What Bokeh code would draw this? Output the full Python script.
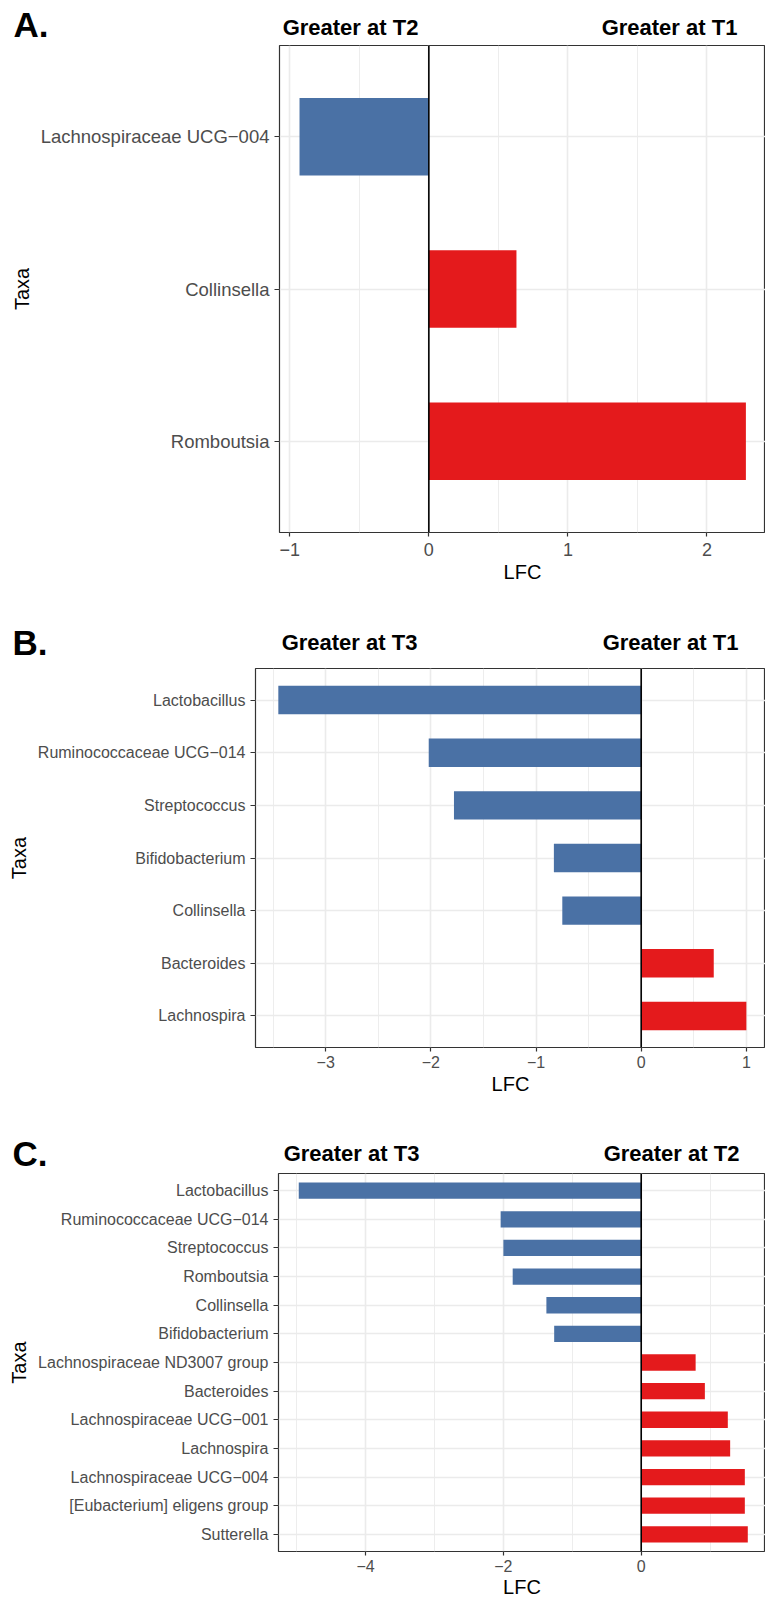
from bokeh.plotting import figure
from bokeh.models import (FactorRange, Range1d, Span, FixedTicker,
                          ColumnDataSource, CustomJSTickFormatter)
from bokeh.core.properties import value
from bokeh.embed import file_html
from bokeh.resources import INLINE

# ---------------- data ----------------
a_taxa = ["Lachnospiraceae UCG\u2212004", "Collinsella", "Romboutsia"]
a_lfc = [-0.93, 0.63, 2.28]

b_taxa = ["Lactobacillus", "Ruminococcaceae UCG\u2212014", "Streptococcus",
          "Bifidobacterium", "Collinsella", "Bacteroides", "Lachnospira"]
b_lfc = [-3.45, -2.02, -1.78, -0.83, -0.75, 0.69, 1.00]

c_taxa = ["Lactobacillus", "Ruminococcaceae UCG\u2212014", "Streptococcus",
          "Romboutsia", "Collinsella", "Bifidobacterium",
          "Lachnospiraceae ND3007 group", "Bacteroides",
          "Lachnospiraceae UCG\u2212001", "Lachnospira",
          "Lachnospiraceae UCG\u2212004", "[Eubacterium] eligens group",
          "Sutterella"]
c_lfc = [-4.97, -2.04, -2.00, -1.865, -1.376, -1.263,
         0.79, 0.924, 1.257, 1.291, 1.504, 1.504, 1.547]

a_ticks = [-1, 0, 1, 2]
a_minor = [-0.5, 0.5, 1.5]
b_ticks = [-3, -2, -1, 0, 1]
b_minor = [-3.5, -2.5, -1.5, -0.5, 0.5]
c_ticks = [-4, -2, 0]
c_minor = [-5, -3, -1, 1]

a_titles = ("A.", "Greater at T2", "Greater at T1")
b_titles = ("B.", "Greater at T3", "Greater at T1")
c_titles = ("C.", "Greater at T3", "Greater at T2")
x_title = "LFC"
y_title = "Taxa"

BLUE = "#4A71A5"
RED = "#E41A1C"
FONT = "Liberation Sans"
W = 765

fmt = CustomJSTickFormatter(code="""
    return tick < 0 ? "\\u2212" + Math.abs(tick) : tick.toString();
""")


def panel(taxa, lfc, ticks, minor, height, frame_left, ft, fb, xr,
          tick_font, ytick_font, bar_h, xstandoff, xlab_standoff):
    factors = list(reversed(taxa))
    vals = list(reversed(lfc))
    cols = [RED if v > 0 else BLUE for v in vals]
    p = figure(width=W, height=height, output_backend="svg",
               toolbar_location=None,
               y_range=FactorRange(factors=factors, range_padding=0.1,
                                   range_padding_units="absolute"),
               x_range=Range1d(xr[0], xr[1]),
               min_border_left=frame_left, min_border_right=0,
               min_border_top=ft, min_border_bottom=height - fb)
    src = ColumnDataSource(dict(y=factors, right=vals, color=cols))
    p.hbar(y="y", left=0, right="right", height=bar_h, source=src,
           fill_color="color", line_color=None)
    p.add_layout(Span(location=0, dimension="height", line_color="black",
                      line_width=1.6))

    p.outline_line_color = "#333333"
    p.outline_line_width = 1.2

    p.xaxis.ticker = FixedTicker(ticks=ticks, minor_ticks=minor)
    p.xaxis.formatter = fmt
    p.xgrid.grid_line_color = "#EBEBEB"
    p.xgrid.grid_line_width = 1.6
    p.xgrid.minor_grid_line_color = "#EBEBEB"
    p.xgrid.minor_grid_line_width = 0.9
    p.ygrid.grid_line_color = "#EBEBEB"
    p.ygrid.grid_line_width = 1.6

    for ax in (p.xaxis[0], p.yaxis[0]):
        ax.axis_line_color = None
        ax.major_tick_line_color = "#333333"
        ax.major_tick_line_width = 1.2
        ax.major_tick_out = 5
        ax.major_tick_in = 0
        ax.minor_tick_line_color = None
        ax.major_label_text_color = "#4D4D4D"
        ax.major_label_text_font = FONT
        ax.axis_label_text_font = FONT
        ax.axis_label_text_font_style = "normal"
        ax.axis_label_text_font_size = "20px"
        ax.axis_label_text_color = "black"

    p.xaxis.axis_label = x_title
    p.xaxis.major_tick_out = 4
    p.xaxis.major_label_standoff = xstandoff
    p.xaxis.axis_label_standoff = xlab_standoff
    p.xaxis.major_label_text_font_size = tick_font

    p.yaxis.axis_label = y_title
    p.yaxis.major_label_standoff = 5
    p.yaxis.axis_label_standoff = 5
    p.yaxis.major_label_text_font_size = ytick_font
    return p


def strip(height, items):
    """Header strip above a panel: items = (text, x, center_y, size, align)."""
    s = figure(width=W, height=height, output_backend="svg",
               toolbar_location=None, x_range=Range1d(0, W),
               y_range=Range1d(height, 0), min_border=0,
               min_border_left=0, min_border_right=0,
               min_border_top=0, min_border_bottom=0,
               x_axis_location=None, y_axis_location=None)
    s.grid.visible = False
    s.outline_line_color = None
    for text, x, y, size, align in items:
        s.text(x=[x], y=[y], text=[text], text_font=value(FONT),
               text_font_size=size, text_font_style="bold",
               text_color="black", text_align=align,
               text_baseline="middle")
    return s


s0 = strip(44, [(a_titles[0], 13, 24, "35px", "left"),
                (a_titles[1], 350, 27, "22px", "center"),
                (a_titles[2], 669, 27, "22px", "center")])

pa = panel(a_taxa, a_lfc, a_ticks, a_minor, height=556, frame_left=279,
           ft=1, fb=488, xr=(-1.074, 2.421), tick_font="18px",
           ytick_font="18.5px", bar_h=0.51, xstandoff=6, xlab_standoff=2)

s1 = strip(65, [(b_titles[0], 12, 42, "35px", "left"),
                (b_titles[1], 349, 42, "22px", "center"),
                (b_titles[2], 670, 42, "22px", "center")])

pb = panel(b_taxa, b_lfc, b_ticks, b_minor, height=435, frame_left=255,
           ft=3, fb=382, xr=(-3.667, 1.182), tick_font="16px",
           ytick_font="16px", bar_h=0.54, xstandoff=4, xlab_standoff=2)

s2 = strip(72, [(c_titles[0], 12, 52.5, "35px", "left"),
                (c_titles[1], 351, 53, "22px", "center"),
                (c_titles[2], 671, 53, "22px", "center")])

pc = panel(c_taxa, c_lfc, c_ticks, c_minor, height=428, frame_left=278,
           ft=1, fb=380, xr=(-5.264, 1.804), tick_font="16px",
           ytick_font="16px", bar_h=0.57, xstandoff=4, xlab_standoff=1)

# separate roots so Bokeh does not align the frames of the stacked figures
roots = [s0, pa, s1, pb, s2, pc]
open("out.html", "w").write(file_html(roots, INLINE))
